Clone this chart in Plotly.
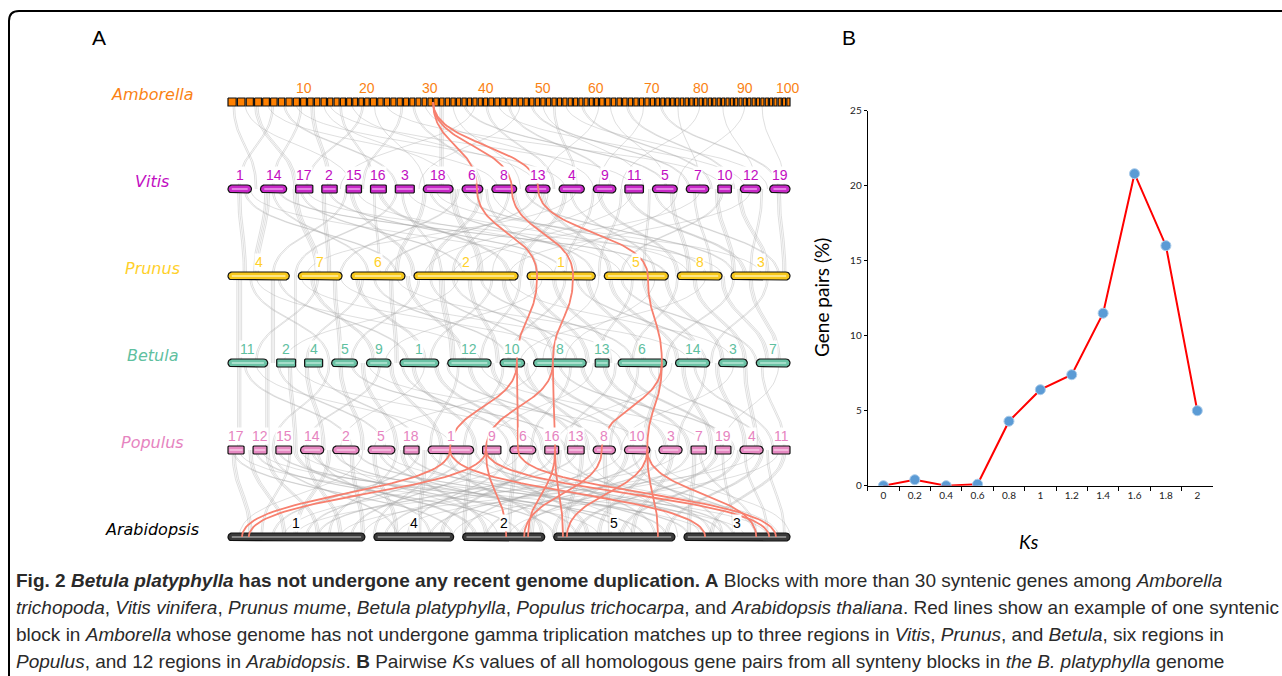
import numpy as np
import plotly.graph_objects as go

W, H = 1282, 676

# ---------------- Panel A data ----------------
AMB_LEN = [10.5, 9.8, 9.2, 8.9, 8.6, 8.4, 8.2, 8.0, 7.8, 7.4,
           7.2, 7.0, 6.9, 6.7, 6.6, 6.5, 6.3, 6.2, 6.0, 5.9,
           7.8, 7.0, 6.8, 6.6, 6.6, 6.5, 6.4, 6.3, 6.0, 5.9,
           5.9, 5.8, 5.7, 5.6, 5.5, 5.5, 5.4, 5.4, 5.3, 5.2,
           6.2, 6.1, 6.0, 5.9, 5.9, 5.8, 5.7, 5.7, 5.6, 5.6,
           5.6, 5.5, 5.4, 5.4, 5.3, 5.3, 5.2, 5.2, 5.1, 5.0,
           6.0, 5.9, 5.8, 5.7, 5.7, 5.6, 5.6, 5.5, 5.5, 5.4,
           4.9, 4.8, 4.7, 4.7, 4.6, 4.6, 4.5, 4.5, 4.4, 4.4,
           4.3, 4.2, 4.2, 4.1, 4.1, 4.1, 4.0, 4.0, 4.0, 4.0,
           4.2, 4.1, 4.1, 4.1, 4.0, 4.0, 4.0, 4.0, 4.0, 4.1]
AMB_CHR = [str(i) for i in range(1, 101)]
AMB_SHOWN = ["10", "20", "30", "40", "50", "60", "70", "80", "90", "100"]

VIT_CHR = ["1", "14", "17", "2", "15", "16", "3", "18", "6", "8", "13", "4", "9", "11", "5", "7", "10", "12", "19"]
VIT_LEN = [52, 58, 38, 34, 34, 35, 42, 66, 46, 55, 54, 56, 50, 41, 55, 50, 30, 45, 45]
PRU_CHR = ["4", "7", "6", "2", "1", "5", "8", "3"]
PRU_LEN = [133, 95, 117, 226, 148, 139, 97, 128]
BET_CHR = ["11", "2", "4", "5", "9", "1", "12", "10", "8", "13", "6", "14", "3", "7"]
BET_LEN = [86, 41, 39, 56, 53, 84, 94, 53, 114, 30, 105, 74, 62, 73]
POP_CHR = ["17", "12", "15", "14", "2", "5", "18", "1", "9", "6", "16", "13", "8", "10", "3", "7", "19", "4", "11"]
POP_LEN = [36, 31, 35, 52, 59, 60, 34, 102, 41, 58, 31, 37, 50, 57, 52, 34, 35, 52, 40]
ARA_CHR = ["1", "4", "2", "5", "3"]
ARA_LEN = [297, 173, 178, 263, 230]

# synteny links: (position on upper genome %, position on lower genome %, strands)
GRAY_AMB_VIT = [(1, 5, 2), (3, 22, 1), (5, 12, 3), (7, 48, 1), (8, 2, 2), (10, 30, 2), (12, 60, 1), (13, 8, 2),
                (15, 18, 3), (17, 40, 1), (18, 72, 1), (20, 26, 2), (22, 55, 1), (24, 14, 2), (26, 35, 1),
                (28, 88, 1), (31, 24, 2), (33, 45, 2), (35, 65, 1), (38, 38, 3), (40, 52, 1), (42, 78, 2),
                (44, 20, 1), (46, 58, 2), (48, 92, 1), (50, 68, 2), (52, 34, 1), (54, 82, 2), (56, 74, 1),
                (58, 62, 2), (60, 96, 1), (63, 86, 2), (66, 56, 1), (68, 78, 1), (71, 90, 2), (74, 66, 1),
                (77, 98, 2), (80, 84, 1), (84, 70, 1), (88, 94, 1), (92, 80, 1), (95, 99, 1)]
GRAY_VIT_PRU = [(2, 3, 3), (3, 30, 2), (4, 58, 1), (7, 5, 4), (8, 25, 2), (9, 78, 2), (12, 16, 4), (13, 42, 2),
                (14, 88, 1), (17, 18, 3), (18, 60, 2), (21, 8, 2), (22, 33, 3), (23, 70, 1), (26, 27, 2),
                (27, 50, 3), (30, 12, 2), (31, 38, 2), (32, 82, 1), (35, 30, 3), (36, 65, 2), (37, 95, 1),
                (40, 45, 4), (41, 20, 2), (42, 85, 2), (45, 36, 3), (46, 55, 2), (47, 72, 1), (50, 40, 2),
                (51, 62, 2), (53, 90, 2), (55, 28, 2), (56, 68, 3), (57, 47, 1), (60, 52, 3), (61, 76, 2),
                (62, 14, 1), (65, 60, 2), (66, 80, 3), (67, 35, 1), (70, 66, 2), (71, 92, 3), (72, 44, 1),
                (75, 74, 2), (76, 98, 2), (79, 82, 3), (80, 58, 1), (83, 86, 2), (84, 40, 1), (87, 90, 3),
                (88, 70, 2), (91, 96, 3), (93, 50, 1), (95, 93, 2), (98, 99, 3)]
GRAY_PRU_BET = [(2, 2, 4), (4, 18, 2), (5, 45, 1), (8, 8, 3), (9, 32, 2), (12, 12, 2), (13, 60, 1), (15, 26, 3),
                (16, 5, 2), (19, 20, 3), (20, 70, 1), (23, 35, 3), (24, 14, 2), (26, 50, 2), (29, 30, 3),
                (30, 82, 1), (32, 42, 3), (34, 22, 2), (36, 55, 2), (38, 40, 4), (40, 62, 2), (41, 10, 1),
                (43, 48, 3), (45, 72, 2), (47, 36, 2), (49, 58, 3), (50, 90, 1), (52, 45, 2), (54, 64, 3),
                (56, 28, 1), (58, 68, 3), (60, 50, 2), (62, 85, 2), (64, 74, 3), (66, 56, 1), (68, 80, 3),
                (70, 94, 2), (72, 66, 2), (74, 84, 3), (76, 60, 1), (78, 88, 3), (80, 72, 2), (83, 92, 3),
                (85, 52, 1), (88, 96, 3), (90, 78, 2), (93, 98, 3), (96, 86, 2)]
GRAY_BET_POP = [(2, 2, 3), (3, 22, 2), (5, 40, 1), (7, 7, 3), (9, 28, 2), (11, 12, 3), (12, 55, 1), (14, 17, 3),
                (16, 34, 2), (18, 8, 2), (20, 24, 3), (22, 60, 2), (24, 30, 3), (25, 75, 1), (27, 14, 2),
                (29, 38, 3), (31, 50, 2), (33, 44, 3), (35, 20, 1), (37, 52, 3), (39, 66, 2), (41, 36, 2),
                (43, 56, 3), (45, 85, 1), (47, 62, 3), (49, 42, 2), (51, 70, 2), (53, 64, 3), (55, 26, 1),
                (57, 72, 3), (59, 90, 2), (61, 54, 2), (63, 78, 3), (65, 46, 1), (67, 82, 3), (69, 60, 2),
                (71, 88, 3), (73, 68, 2), (75, 95, 2), (77, 74, 3), (79, 58, 1), (81, 86, 3), (83, 97, 2),
                (85, 80, 2), (87, 92, 3), (90, 70, 1), (92, 94, 3), (95, 99, 2), (98, 88, 1)]
GRAY_POP_ARA = [(1, 4, 3), (1, 40, 2), (2, 66, 1), (4, 10, 3), (5, 52, 2), (6, 85, 1), (7, 16, 3), (8, 30, 2),
                (9, 74, 2), (11, 6, 2), (12, 44, 3), (13, 92, 1), (14, 20, 3), (15, 58, 2), (16, 36, 2),
                (18, 12, 3), (19, 70, 2), (20, 48, 1), (22, 24, 3), (23, 82, 2), (24, 2, 1), (26, 30, 3),
                (27, 62, 2), (28, 96, 1), (30, 18, 2), (31, 46, 3), (32, 78, 2), (34, 8, 2), (35, 34, 3),
                (36, 88, 2), (38, 26, 2), (39, 56, 3), (40, 72, 1), (42, 14, 2), (43, 42, 3), (44, 90, 2),
                (46, 22, 2), (47, 64, 3), (48, 84, 1), (50, 32, 2), (51, 50, 3), (52, 10, 1), (54, 38, 3),
                (55, 76, 2), (56, 98, 1), (58, 28, 2), (59, 54, 3), (60, 86, 2), (62, 16, 2), (63, 60, 3),
                (64, 80, 1), (66, 42, 2), (67, 68, 3), (68, 94, 2), (70, 24, 1), (71, 58, 3), (72, 88, 2),
                (74, 36, 2), (75, 66, 3), (76, 100, 1), (78, 46, 2), (79, 72, 3), (80, 12, 1), (82, 52, 2),
                (83, 82, 3), (84, 94, 2), (86, 30, 1), (87, 62, 3), (88, 90, 2), (90, 40, 1), (91, 70, 3),
                (92, 96, 2), (94, 20, 1), (95, 78, 3), (96, 99, 2), (98, 50, 1), (99, 86, 3)]

# highlighted syntenic block (upper %, lower %)
RED_AMB_VIT = [(36.5, 44.3), (36.5, 50.5), (36.5, 55.2)]
RED_VIT_PRU = [(44.3, 55.0), (50.5, 61.4), (55.2, 74.7)]
RED_PRU_BET = [(55.0, 51.4), (61.4, 57.8), (74.7, 77.2)]
RED_BET_POP = [(51.4, 39.5), (51.4, 51.6), (57.8, 45.9), (57.8, 58.2), (77.2, 66.5), (77.2, 74.6)]
RED_POP_ARA = [(39.5, 2.5), (39.5, 84.9), (45.9, 3.7), (45.9, 49.5), (45.9, 96.3), (51.6, 97.5),
               (58.2, 59.6), (58.2, 53.4), (66.5, 52.7), (74.6, 60.3), (74.6, 94.0), (74.6, 76.5)]

# ---------------- Panel B data ----------------
KS = ["0", "0.2", "0.4", "0.6", "0.8", "1", "1.2", "1.4", "1.6", "1.8", "2"]
PAIRS = [0.0, 0.4, 0.0, 0.1, 4.3, 6.4, 7.4, 11.5, 20.8, 16.0, 5.0]

# ---------------- styles / layout ----------------
X0, X1 = 228, 790
TRACK_Y = [102, 189, 276, 363, 450, 537]
tracks = [
    dict(name="Amborella", chrs=AMB_CHR, lens=AMB_LEN, shown=AMB_SHOWN, gap=1.2, color="#FA8214",
         fill="#FF8000", stripe="#FFB060", rect=True),
    dict(name="Vitis", chrs=VIT_CHR, lens=VIT_LEN, shown=VIT_CHR, gap=9, color="#C20EC2",
         fill="#C82AC8", stripe="#F2A6F2", rect=False),
    dict(name="Prunus", chrs=PRU_CHR, lens=PRU_LEN, shown=PRU_CHR, gap=9, color="#FFD02A",
         fill="#F7C81C", stripe="#FFF0A8", rect=False),
    dict(name="Betula", chrs=BET_CHR, lens=BET_LEN, shown=BET_CHR, gap=9, color="#5FC09F",
         fill="#6CC3A6", stripe="#BEE8D9", rect=False),
    dict(name="Populus", chrs=POP_CHR, lens=POP_LEN, shown=POP_CHR, gap=9, color="#E684C0",
         fill="#E78AC3", stripe="#F8CDE7", rect=False),
    dict(name="Arabidopsis", chrs=ARA_CHR, lens=ARA_LEN, shown=ARA_CHR, gap=9, color="#000000",
         fill="#3A3A3A", stripe="#A0A0A0", rect=False),
]
GRAY = [GRAY_AMB_VIT, GRAY_VIT_PRU, GRAY_PRU_BET, GRAY_BET_POP, GRAY_POP_ARA]
RED = [RED_AMB_VIT, RED_VIT_PRU, RED_PRU_BET, RED_BET_POP, RED_POP_ARA]


def layout_track(lens, gap):
    scale = (X1 - X0 - gap * (len(lens) - 1)) / sum(lens)
    starts, ends, pos = [], [], X0
    for L in lens:
        starts.append(pos)
        ends.append(pos + L * scale)
        pos += L * scale + gap
    return starts, ends


def gx(pct):
    return X0 + pct / 100.0 * (X1 - X0)


def bezier(xa, ya, xb, yb, n=36):
    t = np.linspace(0, 1, n)
    ym = (ya + yb) / 2
    x = (1 - t) ** 3 * xa + 3 * (1 - t) ** 2 * t * xa + 3 * (1 - t) * t ** 2 * xb + t ** 3 * xb
    y = (1 - t) ** 3 * ya + 3 * (1 - t) ** 2 * t * ym + 3 * (1 - t) * t ** 2 * ym + t ** 3 * yb
    return list(x), list(y)


def rrect(x0, x1, yc, h, r):
    r = min(r, h, (x1 - x0) / 2)
    xs, ys = [], []
    if r <= 0.01:
        return [x0, x1, x1, x0, x0], [yc - h, yc - h, yc + h, yc + h, yc - h]
    corners = [(x1 - r, yc - h + r, -90, 0), (x1 - r, yc + h - r, 0, 90),
               (x0 + r, yc + h - r, 90, 180), (x0 + r, yc - h + r, 180, 270)]
    for cx, cy, a0, a1 in corners:
        for a in np.linspace(np.radians(a0), np.radians(a1), 7):
            xs.append(cx + r * np.cos(a))
            ys.append(cy + r * np.sin(a))
    xs.append(xs[0]); ys.append(ys[0])
    return xs, ys


fig = go.Figure()

# gray synteny links
for g, links in enumerate(GRAY):
    ya, yb = TRACK_Y[g], TRACK_Y[g + 1]
    for p, q, n in links:
        xs, ys = [], []
        for k in range(n):
            off = (k - (n - 1) / 2) * 1.6
            bx, by = bezier(gx(p) + off, ya, gx(q) + off, yb)
            xs += bx + [None]
            ys += by + [None]
        fig.add_trace(go.Scatter(x=xs, y=ys, mode="lines", hoverinfo="skip", showlegend=False,
                                 line=dict(color="rgba(165,165,165,0.36)", width=1)))

# chromosome bars
annotations = []
for ti, tr in enumerate(tracks):
    yc = TRACK_Y[ti]
    starts, ends = layout_track(tr["lens"], tr["gap"])
    fx, fy, sx, sy = [], [], [], []
    for s, e in zip(starts, ends):
        if tr["rect"]:
            r = 0
        else:
            r = 4 if (e - s) > 20 else 0.8
        px, py = rrect(s, e, yc, 4, r)
        fx += px + [None]
        fy += py + [None]
        if not tr["rect"]:
            sx += [s + r * 0.7 + 1, e - r * 0.7 - 1, None]
            sy += [yc, yc, None]
    fig.add_trace(go.Scatter(x=fx, y=fy, mode="lines", fill="toself", fillcolor=tr["fill"],
                             line=dict(color="#111111", width=1.2), hoverinfo="skip", showlegend=False))
    if sx:
        fig.add_trace(go.Scatter(x=sx, y=sy, mode="lines", line=dict(color=tr["stripe"], width=1.4),
                                 hoverinfo="skip", showlegend=False))
    for name, s, e in zip(tr["chrs"], starts, ends):
        if name in tr["shown"]:
            annotations.append(dict(x=(s + e) / 2, y=yc - 14, xref="x", yref="y", text=name,
                                    showarrow=False, xanchor="center", yanchor="middle",
                                    font=dict(family="Liberation Sans, Arial", size=14, color=tr["color"]),
                                    bgcolor="white" if ti > 0 else None, borderpad=0))
    annotations.append(dict(x=152, y=yc - 8, xref="x", yref="y", text="<i>" + tr["name"] + "</i>",
                            showarrow=False, xanchor="center", yanchor="middle",
                            font=dict(family="DejaVu Sans", size=16, color=tr["color"])))

# highlighted red links
for g, links in enumerate(RED):
    ya, yb = TRACK_Y[g], TRACK_Y[g + 1]
    for p, q in links:
        bx, by = bezier(gx(p), ya, gx(q), yb, 50)
        fig.add_trace(go.Scatter(x=bx, y=by, mode="lines", hoverinfo="skip", showlegend=False,
                                 line=dict(color="#F7806F", width=1.8)))

# ---------------- Panel B ----------------
fig.add_trace(go.Scatter(x=KS, y=PAIRS, mode="lines+markers", xaxis="x2", yaxis="y2", showlegend=False,
                         line=dict(color="#FF0000", width=2),
                         marker=dict(size=10, color="#5B9BD5", line=dict(color="#A9CBEA", width=1))))

# panel labels and axis titles
annotations += [
    dict(x=99, y=37, xref="x", yref="y", text="A", showarrow=False,
         font=dict(family="Liberation Sans, Arial", size=21, color="black")),
    dict(x=849, y=37, xref="x", yref="y", text="B", showarrow=False,
         font=dict(family="Liberation Sans, Arial", size=21, color="black")),
    dict(x=821, y=298, xref="x", yref="y", text="Gene pairs (%)", showarrow=False, textangle=-90,
         font=dict(family="Lato, Open Sans", size=19, color="black")),
    dict(x=1029, y=541, xref="x", yref="y", text="<i>Ks</i>", showarrow=False,
         font=dict(family="Lato, Open Sans", size=19, color="black")),
]

CAPTION = [
    "<b>Fig. 2 <i>Betula platyphylla</i> has not undergone any recent genome duplication. A</b> Blocks with more than 30 syntenic genes among <i>Amborella</i>",
    "<i>trichopoda</i>, <i>Vitis vinifera</i>, <i>Prunus mume</i>, <i>Betula platyphylla</i>, <i>Populus trichocarpa</i>, and <i>Arabidopsis thaliana</i>. Red lines show an example of one syntenic",
    "block in <i>Amborella</i> whose genome has not undergone gamma triplication matches up to three regions in <i>Vitis</i>, <i>Prunus</i>, and <i>Betula</i>, six regions in",
    "<i>Populus</i>, and 12 regions in <i>Arabidopsis</i>. <b>B</b> Pairwise <i>Ks</i> values of all homologous gene pairs from all synteny blocks in <i>the B. platyphylla</i> genome",
]
for i, line in enumerate(CAPTION):
    annotations.append(dict(x=14, y=580 + 27 * i, xref="x", yref="y", text=line, showarrow=False,
                            xanchor="left", yanchor="middle",
                            font=dict(family="Liberation Sans, Arial", size=19, color="#2a2a2a")))

shapes = [dict(type="path", xref="x", yref="y", path="M 1300,11 L 19,11 Q 9,11 9,21 L 9,700",
               line=dict(color="black", width=2), fillcolor="rgba(0,0,0,0)", layer="above")]

fig.update_layout(
    width=W, height=H, autosize=False,
    margin=dict(l=0, r=0, t=0, b=0, pad=0, autoexpand=False),
    paper_bgcolor="white", plot_bgcolor="rgba(0,0,0,0)",
    xaxis=dict(range=[0, W], domain=[0, 1], visible=False, fixedrange=True, automargin=False),
    yaxis=dict(range=[H, 0], domain=[0, 1], visible=False, fixedrange=True, automargin=False),
    xaxis2=dict(type="category", domain=[867.7 / W, 1213 / W], range=[-0.5, 10.5], anchor="y2",
                tickson="boundaries", ticks="outside", ticklen=4, tickcolor="black", showline=True,
                linecolor="black", linewidth=1, showgrid=False, zeroline=False, automargin=False,
                tickfont=dict(family="Lato, Open Sans", size=10, color="#222")),
    yaxis2=dict(domain=[1 - 485.7 / H, 1 - 110.7 / H], range=[0, 25], anchor="x2",
                tickvals=[0, 5, 10, 15, 20, 25], ticks="outside", ticklen=3, tickcolor="black",
                showline=True, linecolor="black", linewidth=1, showgrid=False, zeroline=False,
                automargin=False, tickfont=dict(family="Lato, Open Sans", size=10, color="#222")),
    annotations=annotations, shapes=shapes,
)

fig.write_html("out.html", config={"displayModeBar": False},
               post_script="document.body.style.margin='0';document.body.style.overflow='hidden';")
